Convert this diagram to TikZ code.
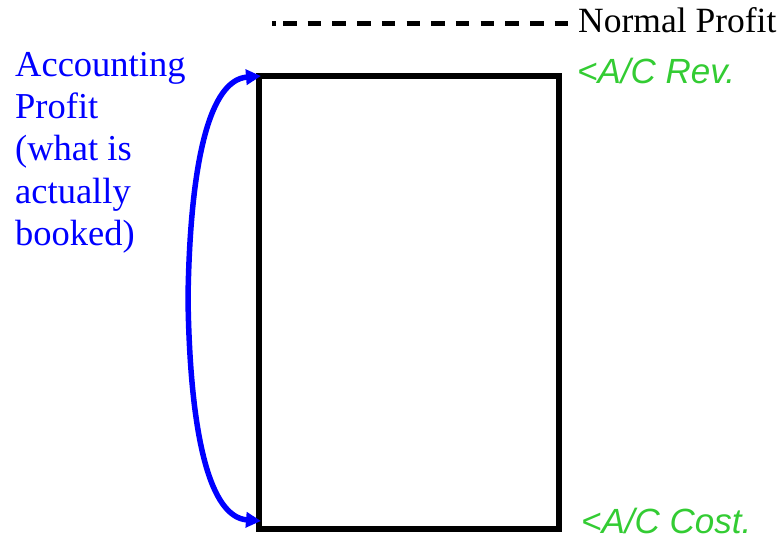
\documentclass[tikz,border=0pt]{standalone}
\usepackage{fontspec}
\setmainfont{Liberation Serif}
\newfontfamily\labelsans{Liberation Sans}
\usetikzlibrary{arrows.meta}
\definecolor{acgreen}{RGB}{51,204,51}
\definecolor{acblue}{RGB}{0,0,255}
\tikzset{
  profitbox/.style={draw=black, line width=5.5pt, minimum width=300pt, minimum height=453pt, inner sep=0pt, outer sep=0pt},
  normalline/.style={line width=5pt, dash pattern=on 4pt off 7pt on 13.5pt off 11.2pt on 13.5pt off 11.2pt on 13.5pt off 11.2pt on 13.5pt off 11.2pt on 13.5pt off 11.2pt on 13.5pt off 11.2pt on 13.5pt off 11.2pt on 13.5pt off 11.2pt on 13.5pt off 11.2pt on 13.5pt off 11.2pt on 13.5pt off 11.2pt on 13.5pt off 40pt},
  serifbig/.style={font=\fontsize{35.5}{42.3}\selectfont, inner sep=0pt},
  acctfont/.style={font=\fontsize{36.5}{42.3}\selectfont, inner sep=0pt},
  aclabel/.style={text=acgreen, font=\labelsans\itshape\fontsize{35}{40}\selectfont, inner sep=0pt, anchor=base west},
  profitarrow/.style={draw=acblue, line width=5.5pt, {Triangle[length=15pt,width=15pt]}-{Triangle[length=15pt,width=15pt]}}
}
\begin{document}
\begin{tikzpicture}[x=1pt,y=-1pt]
  \useasboundingbox (0,0) rectangle (780,540);
  % the profit box
  \node[profitbox] (box) at (409,302.5) {};
  % legend: normal profit line
  \coordinate (npstart) at (272,24);
  \coordinate (npend) at (568,24);
  \draw[normalline] (npstart) -- (npend);
  \node[serifbig, anchor=base west] (normal) at (578,33) {Normal Profit};
  % labels at the right of the box
  \node[aclabel] (rev) at (577,84) {<A/C Rev.};
  \node[aclabel] (cost) at (581,533) {<A/C Cost.};
  % accounting profit label and arrow
  \node[acctfont, text=acblue, align=left, anchor=north west] (acct) at (15,52)
    {Accounting\\Profit\\(what is\\actually\\booked)};
  \coordinate (toptip) at ([xshift=2pt]box.north west);
  \coordinate (bottip) at ([xshift=2pt,yshift=8pt]box.south west);
  \coordinate (mid) at (188,298.5);
  \draw[profitarrow] (toptip) .. controls (210,80) and (190,160) .. (mid)
                               .. controls (190,437) and (210,517) .. (bottip);
\end{tikzpicture}
\end{document}
